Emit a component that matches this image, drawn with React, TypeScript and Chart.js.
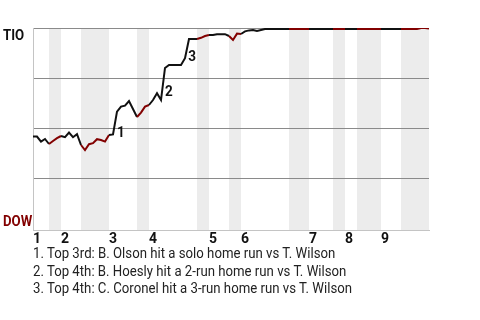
import React, { useEffect, useRef } from "react";
import { Chart, registerables } from "chart.js";

Chart.register(...registerables);

// ---- data ----
const teamTop = "TIO";
const teamBottom = "DOW";
const innings = ["1", "2", "3", "4", "5", "6", "7", "8", "9"];
const inningStart = [0, 7, 19, 29, 44, 52, 69, 78, 87];
const bottomHalfStart = [4, 12, 26, 41, 49, 64, 75, 81, 92];
const bottomHalfEnd = [7, 19, 29, 44, 52, 69, 78, 87, 99];
const eventIdx = [
  0, 1, 2, 3, 4, 5, 6, 7, 8, 9, 10, 11, 12, 13, 14, 15, 16, 17, 18, 19, 20, 21, 22, 23, 24,
  26, 27, 28, 29, 30, 31, 32, 33, 34,
  37, 38, 39,
  41, 42, 43, 44, 45, 46, 47, 48, 49, 50, 51, 52, 53, 54, 55, 56, 57, 58,
  60, 64, 69, 75, 78, 81, 87, 92, 96,
  97, 98, 99,
];
const tioWinProb = [
  0.457, 0.457, 0.432, 0.445, 0.42, 0.435, 0.449, 0.46, 0.454, 0.477, 0.454, 0.469, 0.415, 0.39,
  0.419, 0.424, 0.444, 0.44, 0.432, 0.465, 0.468, 0.582, 0.607, 0.612, 0.635,
  0.555, 0.577, 0.607, 0.615, 0.64, 0.674, 0.64, 0.8, 0.815,
  0.815, 0.849, 0.945,
  0.945, 0.951, 0.96, 0.965, 0.965, 0.969, 0.969, 0.969, 0.96, 0.94, 0.972, 0.97, 0.983, 0.988,
  0.99, 0.985, 0.99, 0.995,
  0.995, 0.995, 0.995, 0.995, 0.995, 0.995, 0.995, 0.995, 0.995,
  1.0, 1.0, 0.998,
];
const hrLabels = ["1", "2", "3"];
const hrLabelX = [21, 33, 38.8];
const hrLabelY = [0.455, 0.658, 0.835];
const footnotes = [
  "1. Top 3rd: B. Olson hit a solo home run vs T. Wilson",
  "2. Top 4th: B. Hoesly hit a 2-run home run vs T. Wilson",
  "3. Top 4th: C. Coronel hit a 3-run home run vs T. Wilson",
];
const gridValues = [0.25, 0.5, 0.75, 1];

const BLACK = "#111111";
const RED = "#820000";
const BAND = "#ececec";
const GRID = "#8a8a8a";
const AXIS = "#c4c4c4";

const isBottomHalf = (x: number) =>
  bottomHalfStart.some((s, i) => x >= s && x < bottomHalfEnd[i]);

export default function App() {
  const ref = useRef<HTMLCanvasElement>(null);

  useEffect(() => {
    const canvas = ref.current!;

    const bandPlugin = {
      id: "bands",
      beforeDraw(chart: any) {
        const { ctx, chartArea, scales } = chart;
        ctx.save();
        ctx.fillStyle = BAND;
        bottomHalfStart.forEach((s, i) => {
          const x1 = scales.x.getPixelForValue(s);
          const x2 = scales.x.getPixelForValue(bottomHalfEnd[i]);
          ctx.fillRect(x1, chartArea.top, x2 - x1, chartArea.bottom - chartArea.top);
        });
        ctx.restore();
      },
    };

    const labelPlugin = {
      id: "labels",
      afterDatasetsDraw(chart: any) {
        const { ctx, scales } = chart;
        const drawScaled = (text: string, x: number, y: number, color: string, sx: number) => {
          ctx.save();
          ctx.translate(x, y);
          ctx.scale(sx, 1);
          ctx.fillStyle = color;
          ctx.fillText(text, 0, 0);
          ctx.restore();
        };
        ctx.save();
        ctx.font = "bold 15px Roboto";
        ctx.textBaseline = "alphabetic";
        ctx.textAlign = "left";
        drawScaled(teamTop, 3, scales.y.getPixelForValue(1) + 12, BLACK, 0.88);
        drawScaled(teamBottom, 3, scales.y.getPixelForValue(0) - 2, RED, 0.88);
        hrLabels.forEach((t, i) => {
          drawScaled(
            t,
            scales.x.getPixelForValue(hrLabelX[i]),
            scales.y.getPixelForValue(hrLabelY[i]),
            BLACK,
            0.9
          );
        });
        ctx.restore();
      },
    };

    const chart = new Chart(canvas, {
      type: "line",
      data: {
        datasets: [
          {
            data: eventIdx.map((x, i) => ({ x, y: tioWinProb[i] })),
            borderColor: BLACK,
            borderWidth: 2,
            pointRadius: 0,
            tension: 0,
            fill: false,
            segment: {
              borderColor: (c: any) => (isBottomHalf(c.p0.parsed.x) ? RED : BLACK),
            },
          },
        ],
      },
      options: {
        animation: false,
        responsive: false,
        events: [],
        layout: { padding: { left: 33, right: 51, top: 28, bottom: 0 } },
        plugins: { legend: { display: false }, tooltip: { enabled: false } },
        scales: {
          x: {
            type: "linear",
            min: 0,
            max: 99,
            grid: { display: false, drawTicks: false },
            border: { display: true, color: AXIS, width: 1 },
            afterBuildTicks: (s: any) => {
              s.ticks = inningStart.map((v) => ({ value: v }));
            },
            ticks: {
              autoSkip: false,
              maxRotation: 0,
              align: "start",
              padding: 2,
              color: BLACK,
              font: { family: "Roboto", weight: "bold", size: 14, lineHeight: 1 },
              callback: (v: any) => innings[inningStart.indexOf(Number(v))] ?? "",
            },
          },
          y: {
            type: "linear",
            min: -0.01,
            max: 1,
            grid: { color: GRID, drawTicks: false, lineWidth: 1 },
            border: { display: true, color: AXIS, width: 1 },
            ticks: { display: false },
            afterBuildTicks: (s: any) => {
              s.ticks = gridValues.map((v) => ({ value: v }));
            },
          },
        },
      } as any,
      plugins: [bandPlugin, labelPlugin],
    });
    return () => chart.destroy();
  }, []);

  return (
    <div
      style={{
        position: "absolute",
        left: 0,
        top: 0,
        width: 480,
        height: 320,
        background: "#fff",
        overflow: "hidden",
      }}
    >
      <canvas ref={ref} width={480} height={248} style={{ display: "block" }} />
      <div
        style={{
          position: "absolute",
          left: 33,
          top: 245,
          fontFamily: "Roboto",
          fontSize: 15,
          lineHeight: "17.5px",
          color: "#222",
          whiteSpace: "nowrap",
          transform: "scaleX(0.88)",
          transformOrigin: "left top",
        }}
      >
        {footnotes.map((f, i) => (
          <div key={i}>{f}</div>
        ))}
      </div>
    </div>
  );
}
